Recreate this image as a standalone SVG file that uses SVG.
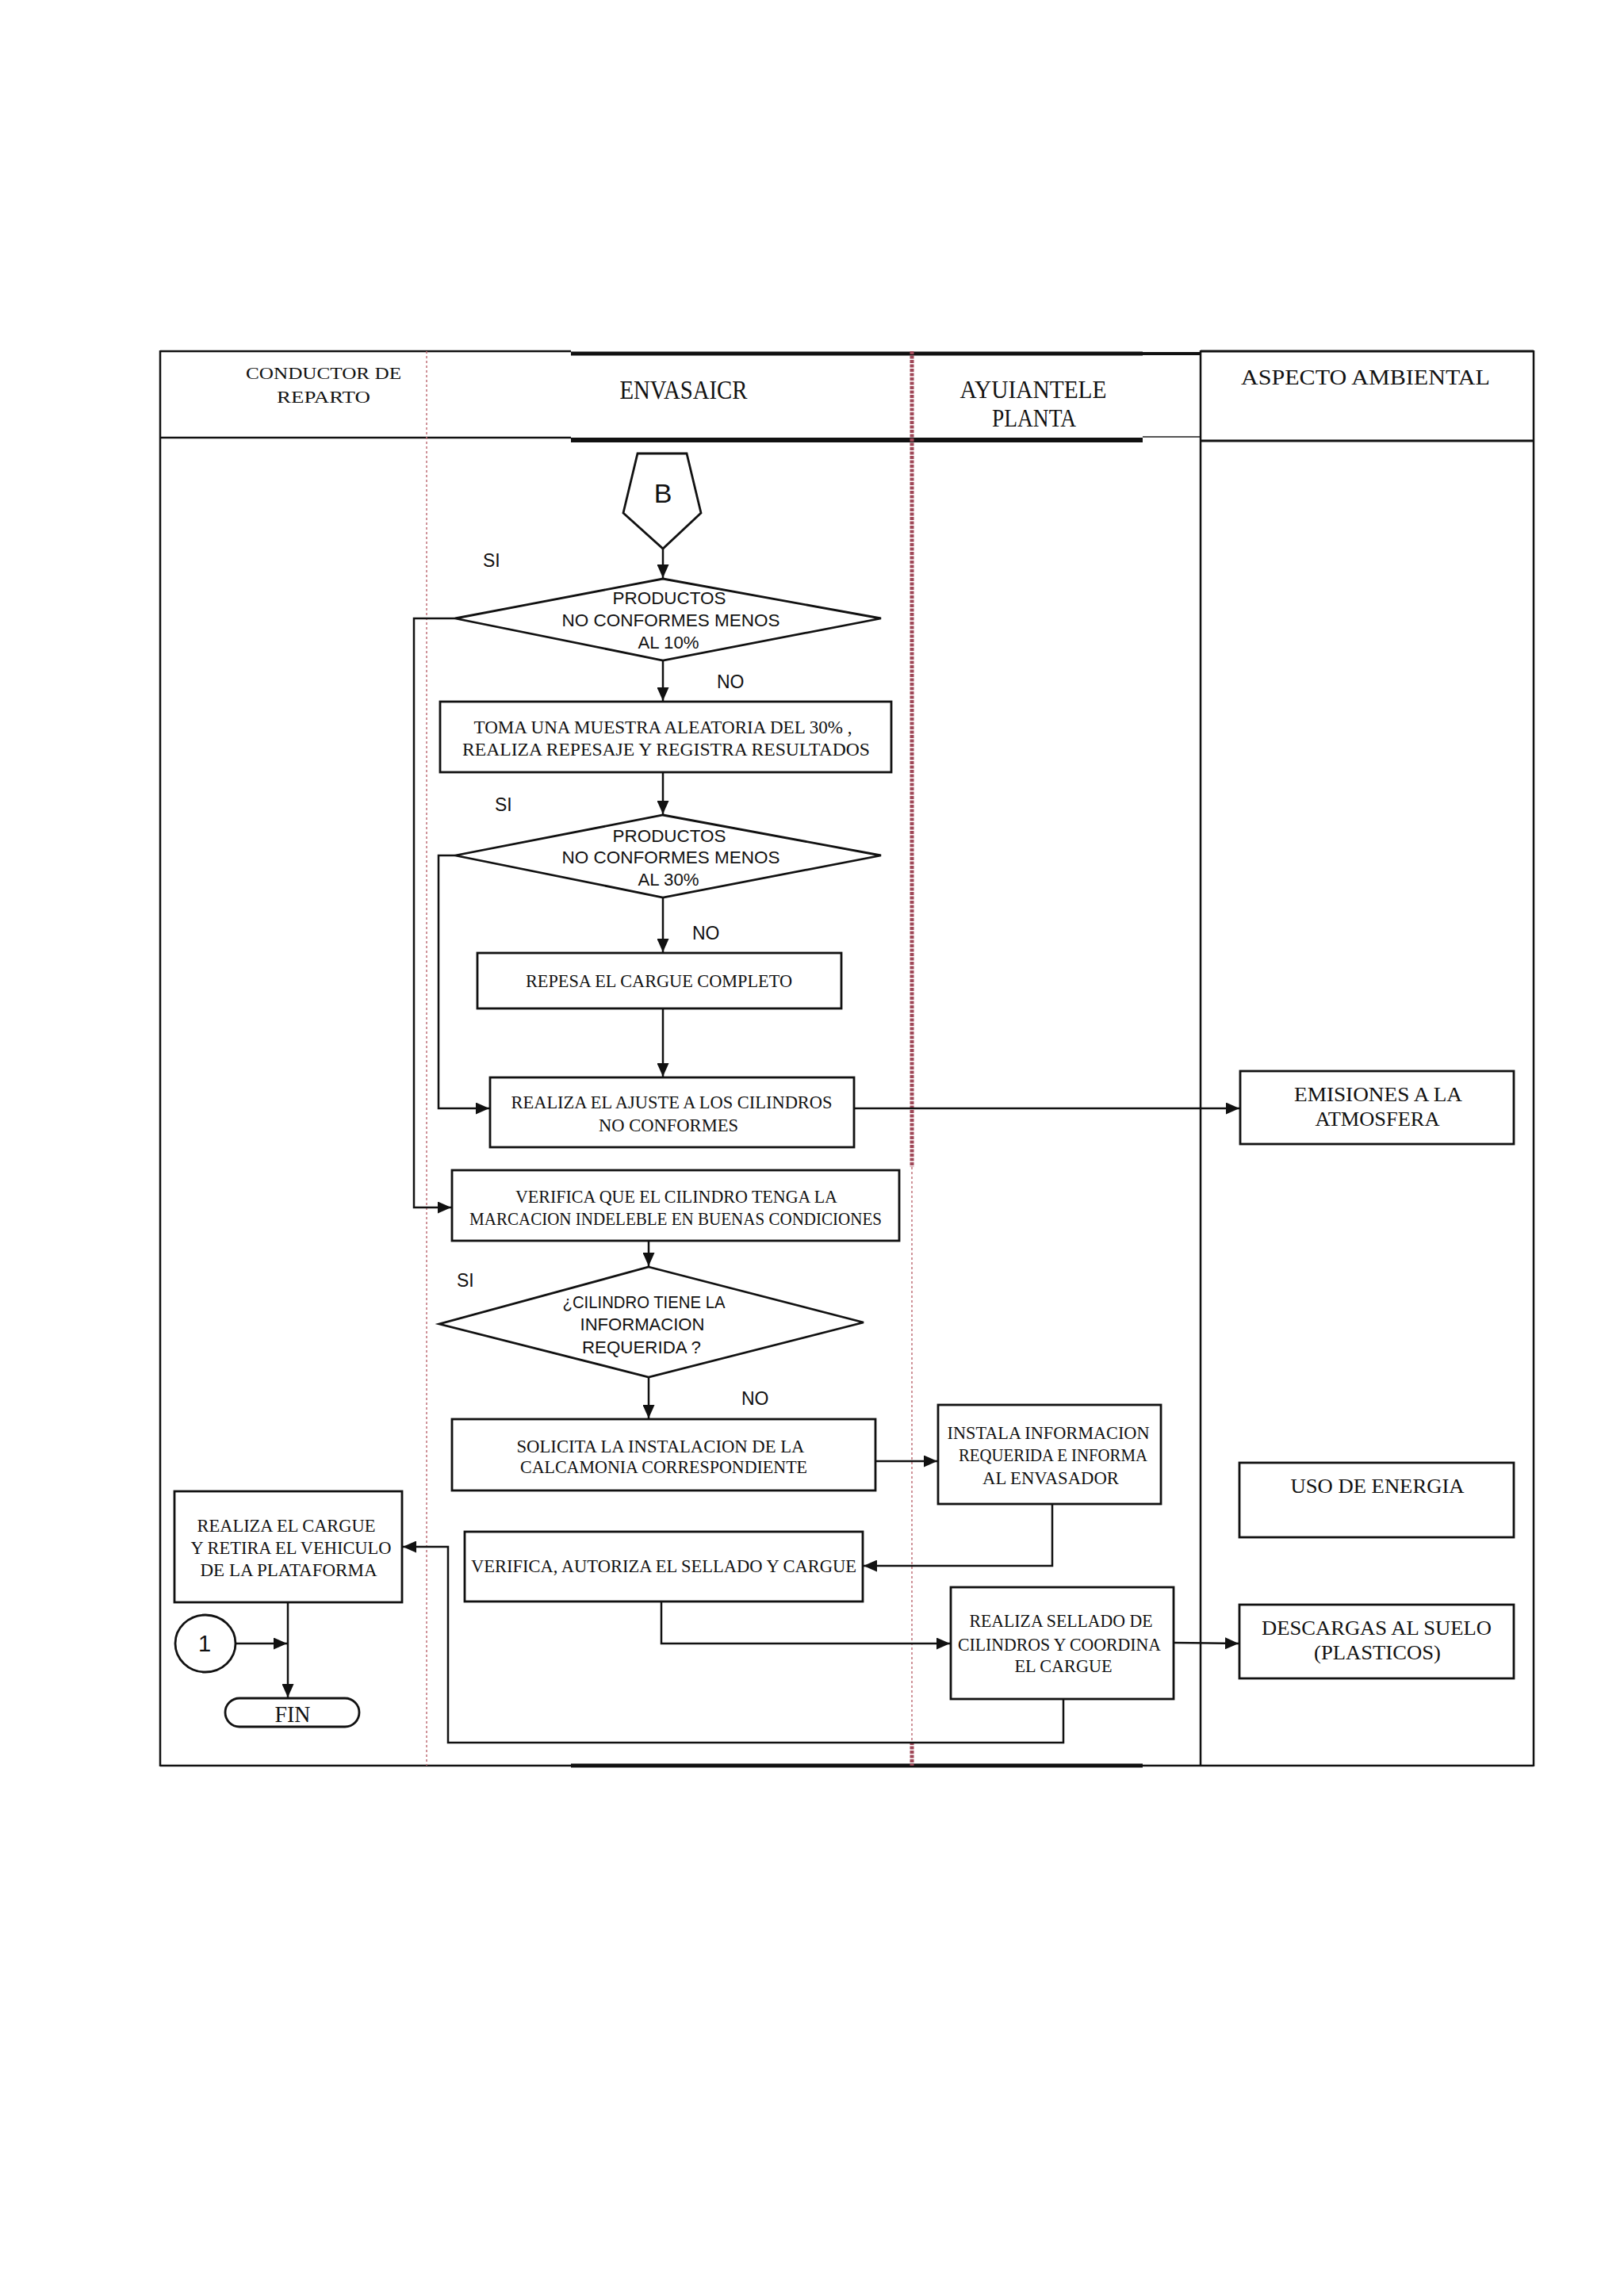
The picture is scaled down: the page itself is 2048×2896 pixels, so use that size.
<svg xmlns="http://www.w3.org/2000/svg" width="2048" height="2896" viewBox="0 0 2048 2896">
<style>
.bx{fill:none;stroke:#111;stroke-width:2.8}
.ln{fill:none;stroke:#111;stroke-width:2.5}
.fr{fill:none;stroke:#111;stroke-width:2.5}
.t{font-family:"Liberation Serif","Times New Roman",serif;font-size:24px;fill:#111;text-anchor:middle}
.t2{font-family:"Liberation Serif","Times New Roman",serif;font-size:26px;fill:#111;text-anchor:middle}
.h{font-family:"Liberation Serif","Times New Roman",serif;fill:#111;text-anchor:middle}
.a{font-family:"Liberation Sans",Arial,sans-serif;font-size:22px;fill:#111;text-anchor:middle}
.big{font-family:"Liberation Sans",Arial,sans-serif;fill:#111;text-anchor:middle}
.lb{font-family:"Liberation Sans",Arial,sans-serif;font-size:23px;fill:#111}
</style>
<defs>
<marker id="ar" markerUnits="userSpaceOnUse" markerWidth="17" markerHeight="15" refX="17" refY="7.5" orient="auto">
<path d="M0,0 L17,7.5 L0,15 z" fill="#111"/>
</marker>
</defs>
<rect x="0" y="0" width="2048" height="2896" fill="#fff"/>
<g id="frame">
<line class="fr" x1="202" y1="443" x2="720" y2="443"/>
<line x1="720" y1="446" x2="1441" y2="446" stroke="#111" stroke-width="5"/>
<line x1="1441" y1="446" x2="1514" y2="446" stroke="#111" stroke-width="4"/>
<line x1="1514" y1="443" x2="1934" y2="443" stroke="#111" stroke-width="3"/>
<line class="fr" x1="202" y1="552" x2="720" y2="552"/>
<line x1="720" y1="555" x2="1441" y2="555" stroke="#111" stroke-width="6"/>
<line x1="1441" y1="551" x2="1514" y2="551" stroke="#555" stroke-width="2"/>
<line x1="1514" y1="556" x2="1934" y2="556" stroke="#111" stroke-width="3"/>
<line class="fr" x1="202" y1="442" x2="202" y2="2228"/>
<line class="fr" x1="1514" y1="442" x2="1514" y2="2228"/>
<line class="fr" x1="1934" y1="442" x2="1934" y2="2228"/>
<line class="fr" x1="202" y1="2227" x2="720" y2="2227"/>
<line x1="720" y1="2227" x2="1441" y2="2227" stroke="#111" stroke-width="5"/>
<line class="fr" x1="1441" y1="2227" x2="1934" y2="2227"/>
<line x1="538" y1="443" x2="538" y2="2227" stroke="#c07078" stroke-width="1.5" stroke-dasharray="3 3"/>
<line x1="1150" y1="443" x2="1150" y2="1472" stroke="#a04858" stroke-width="5" stroke-dasharray="4 1.5"/>
<line x1="1150" y1="1472" x2="1150" y2="2197" stroke="#c07078" stroke-width="1.5" stroke-dasharray="3 3"/>
<line x1="1150" y1="2197" x2="1150" y2="2227" stroke="#a04858" stroke-width="5" stroke-dasharray="4 1.5"/>
</g>
<g id="headers">
<text class="h" font-size="22" x="408" y="478" textLength="196" lengthAdjust="spacingAndGlyphs">CONDUCTOR DE</text>
<text class="h" font-size="22" x="408" y="508" textLength="118" lengthAdjust="spacingAndGlyphs">REPARTO</text>
<text class="h" font-size="34" x="862" y="503" textLength="161" lengthAdjust="spacingAndGlyphs">ENVASAICR</text>
<text class="h" font-size="32" x="1303" y="502" textLength="185" lengthAdjust="spacingAndGlyphs">AYUIANTELE</text>
<text class="h" font-size="32" x="1304" y="538" textLength="106" lengthAdjust="spacingAndGlyphs">PLANTA</text>
<text class="h" font-size="28" x="1722" y="485" textLength="314" lengthAdjust="spacingAndGlyphs">ASPECTO AMBIENTAL</text>
</g>
<g id="connectors">
<line class="ln" x1="836" y1="692" x2="836" y2="729" marker-end="url(#ar)"/>
<polyline class="ln" points="574,780 522,780 522,1523 569,1523" marker-end="url(#ar)"/>
<line class="ln" x1="836" y1="833" x2="836" y2="884" marker-end="url(#ar)"/>
<line class="ln" x1="836" y1="974" x2="836" y2="1027" marker-end="url(#ar)"/>
<polyline class="ln" points="574,1079 553,1079 553,1398 617,1398" marker-end="url(#ar)"/>
<line class="ln" x1="836" y1="1132" x2="836" y2="1201" marker-end="url(#ar)"/>
<line class="ln" x1="836" y1="1272" x2="836" y2="1358" marker-end="url(#ar)"/>
<line class="ln" x1="1077" y1="1398" x2="1563" y2="1398" marker-end="url(#ar)"/>
<line class="ln" x1="818" y1="1565" x2="818" y2="1597" marker-end="url(#ar)"/>
<line class="ln" x1="818" y1="1737" x2="818" y2="1789" marker-end="url(#ar)"/>
<line class="ln" x1="1104" y1="1843" x2="1182" y2="1843" marker-end="url(#ar)"/>
<polyline class="ln" points="1327,1897 1327,1975 1089,1975" marker-end="url(#ar)"/>
<polyline class="ln" points="834,2020 834,2073 1198,2073" marker-end="url(#ar)"/>
<line class="ln" x1="1480" y1="2072" x2="1562" y2="2073" marker-end="url(#ar)"/>
<polyline class="ln" points="1341,2143 1341,2198 565,2198 565,1951 508,1951" marker-end="url(#ar)"/>
<line class="ln" x1="363" y1="2021" x2="363" y2="2141" marker-end="url(#ar)"/>
<line class="ln" x1="297" y1="2073" x2="362" y2="2073" marker-end="url(#ar)"/>
</g>
<g id="labels">
<text class="lb" x="609" y="715">SI</text>
<text class="lb" x="904" y="868">NO</text>
<text class="lb" x="624" y="1023">SI</text>
<text class="lb" x="873" y="1185">NO</text>
<text class="lb" x="576" y="1623">SI</text>
<text class="lb" x="935" y="1772">NO</text>
</g>
<g id="node-b">
<polygon class="bx" points="804,572 866,572 884,647 836,692 786,647"/>
<text class="big" font-size="34" x="836" y="634">B</text>
</g>
<g id="node-d1">
<polygon class="bx" points="836,730 1111,780 836,833 574,780"/>
<text class="a" x="844" y="762" textLength="143" lengthAdjust="spacingAndGlyphs">PRODUCTOS</text>
<text class="a" x="846" y="790" textLength="275" lengthAdjust="spacingAndGlyphs">NO CONFORMES  MENOS</text>
<text class="a" x="843" y="818" textLength="77" lengthAdjust="spacingAndGlyphs">AL 10%</text>
</g>
<g id="node-muestra">
<rect class="bx" x="555" y="885" width="569" height="89"/>
<text class="t" x="836" y="925" textLength="477" lengthAdjust="spacingAndGlyphs">TOMA UNA MUESTRA  ALEATORIA DEL 30% ,</text>
<text class="t" x="840" y="953" textLength="514" lengthAdjust="spacingAndGlyphs">REALIZA  REPESAJE Y  REGISTRA   RESULTADOS</text>
</g>
<g id="node-d2">
<polygon class="bx" points="836,1028 1111,1079 836,1132 574,1079"/>
<text class="a" x="844" y="1062" textLength="143" lengthAdjust="spacingAndGlyphs">PRODUCTOS</text>
<text class="a" x="846" y="1089" textLength="275" lengthAdjust="spacingAndGlyphs">NO CONFORMES  MENOS</text>
<text class="a" x="843" y="1117" textLength="77" lengthAdjust="spacingAndGlyphs">AL 30%</text>
</g>
<g id="node-repesa">
<rect class="bx" x="602" y="1202" width="459" height="70"/>
<text class="t" x="831" y="1245" textLength="336" lengthAdjust="spacingAndGlyphs">REPESA EL CARGUE COMPLETO</text>
</g>
<g id="node-ajuste">
<rect class="bx" x="618" y="1359" width="459" height="88"/>
<text class="t" x="847" y="1398" textLength="405" lengthAdjust="spacingAndGlyphs">REALIZA EL AJUSTE A LOS CILINDROS</text>
<text class="t" x="843" y="1427" textLength="176" lengthAdjust="spacingAndGlyphs">NO CONFORMES</text>
</g>
<g id="node-verifica">
<rect class="bx" x="570" y="1476" width="564" height="89"/>
<text class="t" x="853" y="1517" textLength="406" lengthAdjust="spacingAndGlyphs">VERIFICA QUE EL CILINDRO TENGA LA</text>
<text class="t" x="852" y="1545" textLength="520" lengthAdjust="spacingAndGlyphs">MARCACION INDELEBLE EN BUENAS CONDICIONES</text>
</g>
<g id="node-d3">
<polygon class="bx" points="818,1598 1089,1668 818,1737 554,1670"/>
<text class="a" x="812" y="1650" textLength="205" lengthAdjust="spacingAndGlyphs">¿CILINDRO TIENE LA</text>
<text class="a" x="810" y="1678" textLength="157" lengthAdjust="spacingAndGlyphs">INFORMACION</text>
<text class="a" x="809" y="1707" textLength="150" lengthAdjust="spacingAndGlyphs">REQUERIDA ?</text>
</g>
<g id="node-solicita">
<rect class="bx" x="570" y="1790" width="534" height="90"/>
<text class="t" x="833" y="1832" textLength="363" lengthAdjust="spacingAndGlyphs">SOLICITA LA INSTALACION  DE LA</text>
<text class="t" x="837" y="1858" textLength="362" lengthAdjust="spacingAndGlyphs">CALCAMONIA CORRESPONDIENTE</text>
</g>
<g id="node-instala">
<rect class="bx" x="1183" y="1772" width="281" height="125"/>
<text class="t" x="1322" y="1815" textLength="255" lengthAdjust="spacingAndGlyphs">INSTALA INFORMACION</text>
<text class="t" x="1328" y="1843" textLength="238" lengthAdjust="spacingAndGlyphs">REQUERIDA E INFORMA</text>
<text class="t" x="1325" y="1872" textLength="172" lengthAdjust="spacingAndGlyphs">AL ENVASADOR</text>
</g>
<g id="node-autoriza">
<rect class="bx" x="586" y="1932" width="502" height="88"/>
<text class="t" x="837" y="1983" textLength="486" lengthAdjust="spacingAndGlyphs">VERIFICA, AUTORIZA EL SELLADO Y  CARGUE</text>
</g>
<g id="node-sellado">
<rect class="bx" x="1199" y="2002" width="281" height="141"/>
<text class="t" x="1338" y="2052" textLength="231" lengthAdjust="spacingAndGlyphs">REALIZA SELLADO DE</text>
<text class="t" x="1336" y="2082" textLength="256" lengthAdjust="spacingAndGlyphs">CILINDROS Y COORDINA</text>
<text class="t" x="1341" y="2109" textLength="123" lengthAdjust="spacingAndGlyphs">EL CARGUE</text>
</g>
<g id="node-cargue">
<rect class="bx" x="220" y="1881" width="287" height="140"/>
<text class="t" x="361" y="1932" textLength="225" lengthAdjust="spacingAndGlyphs">REALIZA EL CARGUE</text>
<text class="t" x="367" y="1960" textLength="253" lengthAdjust="spacingAndGlyphs">Y RETIRA EL VEHICULO</text>
<text class="t" x="364" y="1988" textLength="223" lengthAdjust="spacingAndGlyphs">DE LA PLATAFORMA</text>
</g>
<g id="node-conector-1">
<ellipse class="bx" cx="259" cy="2073" rx="38" ry="36"/>
<text class="big" font-size="29" x="258" y="2083">1</text>
</g>
<g id="node-fin">
<rect class="bx" x="284" y="2142" width="169" height="36" rx="18" ry="18"/>
<text class="h" font-size="30" x="369" y="2172" textLength="45" lengthAdjust="spacingAndGlyphs">FIN</text>
</g>
<g id="node-emisiones">
<rect class="bx" x="1564" y="1351" width="345" height="92"/>
<text class="t2" x="1738" y="1389" textLength="212" lengthAdjust="spacingAndGlyphs">EMISIONES A  LA</text>
<text class="t2" x="1737" y="1420" textLength="157" lengthAdjust="spacingAndGlyphs">ATMOSFERA</text>
</g>
<g id="node-energia">
<rect class="bx" x="1563" y="1845" width="346" height="94"/>
<text class="t2" x="1737" y="1883" textLength="219" lengthAdjust="spacingAndGlyphs">USO DE ENERGIA</text>
</g>
<g id="node-descargas">
<rect class="bx" x="1563" y="2024" width="346" height="93"/>
<text class="t2" x="1736" y="2062" textLength="290" lengthAdjust="spacingAndGlyphs">DESCARGAS AL SUELO</text>
<text class="t2" x="1737" y="2093" textLength="160" lengthAdjust="spacingAndGlyphs">(PLASTICOS)</text>
</g>
</svg>
